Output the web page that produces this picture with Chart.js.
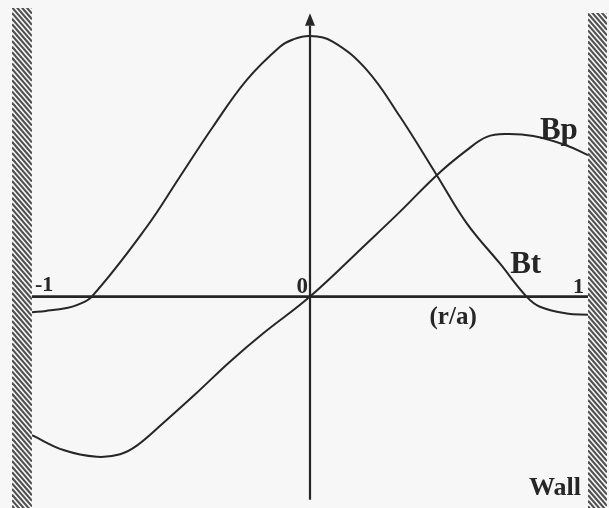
<!DOCTYPE html>
<html>
<head>
<meta charset="utf-8">
<title>Bt / Bp radial profiles</title>
<script src="https://cdn.jsdelivr.net/npm/chart.js@4/dist/chart.umd.min.js"></script>
<style>
  html, body { margin: 0; padding: 0; background: #f7f7f7; }
  canvas { display: block; }
</style>
</head>
<body>
<canvas id="c" width="609" height="508"></canvas>
<script>
// Radial positions (r/a) and field values for the toroidal field Bt
const btR = [-1.0, -0.95, -0.875, -0.839, -0.785, -0.587, -0.468, -0.349, -0.228, -0.108, -0.061, 0.0,
             0.083, 0.204, 0.324, 0.456, 0.564, 0.683, 0.779, 0.827, 0.923, 1.0];
const btVal = [-0.06, -0.055, -0.044, -0.033, 0.0, 0.268, 0.46, 0.652, 0.831, 0.959, 0.987, 1.0,
               0.978, 0.87, 0.69, 0.466, 0.281, 0.127, 0.0, -0.039, -0.065, -0.07];

// Radial positions (r/a) and field values for the poloidal field Bp
const bpR = [-1.0, -0.887, -0.767, -0.683, -0.623, -0.528, -0.408, -0.288, -0.168, 0.0,
             0.204, 0.324, 0.456, 0.564, 0.636, 0.707, 0.803, 0.923, 1.0];
const bpVal = [-0.532, -0.589, -0.615, -0.605, -0.572, -0.485, -0.37, -0.25, -0.141, 0.0,
               0.204, 0.326, 0.466, 0.562, 0.613, 0.624, 0.616, 0.58, 0.543];

// Axis tick labels
const xTickLabels = [
  { value: -1, text: '-1' },
  { value: 0, text: '0' },
  { value: 1, text: '1' }
];

const toPoints = (xs, ys) => xs.map((x, i) => ({ x, y: ys[i] }));

const INK = '#262626';
const SERIF = '"Liberation Serif", "DejaVu Serif", serif';

// Hatched conducting walls at r/a = -1 and r/a = 1, plus the cross-shaped axes
const wallsAndAxes = {
  id: 'wallsAndAxes',
  beforeDatasetsDraw(chart) {
    const { ctx, scales: { x, y } } = chart;
    const xl = x.getPixelForValue(-1);
    const xr = x.getPixelForValue(1);
    const x0 = x.getPixelForValue(0);
    const y0 = y.getPixelForValue(0);
    const H = chart.height;

    const hatch = (left, top, w) => {
      ctx.save();
      ctx.beginPath();
      ctx.rect(left, top, w, H - top);
      ctx.clip();
      ctx.strokeStyle = '#505050';
      ctx.lineWidth = 2.1;
      for (let s = top - w * 1.15; s < H + 10; s += 5.6) {
        ctx.beginPath();
        ctx.moveTo(left, s);
        ctx.lineTo(left + w, s + w * 1.15);
        ctx.stroke();
      }
      ctx.restore();
    };
    hatch(xl - 20, 8, 20);
    hatch(xr, 13, 19);

    ctx.save();
    ctx.strokeStyle = INK;
    ctx.fillStyle = INK;
    // horizontal axis
    ctx.lineWidth = 2.6;
    ctx.beginPath();
    ctx.moveTo(xl, y0);
    ctx.lineTo(xr, y0);
    ctx.stroke();
    // vertical axis with arrow
    const yTop = y.getPixelForValue(1.04);
    const yBot = y.getPixelForValue(-0.78);
    ctx.lineWidth = 2.2;
    ctx.beginPath();
    ctx.moveTo(x0, yTop);
    ctx.lineTo(x0, yBot);
    ctx.stroke();
    const tip = y.getPixelForValue(1.088);
    ctx.beginPath();
    ctx.moveTo(x0, tip);
    ctx.lineTo(x0 - 5, yTop);
    ctx.lineTo(x0 + 5, yTop);
    ctx.closePath();
    ctx.fill();
    ctx.restore();
  },
  afterDatasetsDraw(chart) {
    const { ctx, scales: { x, y } } = chart;
    const y0 = y.getPixelForValue(0);
    ctx.save();
    ctx.fillStyle = INK;
    ctx.textBaseline = 'alphabetic';

    // tick labels just above the horizontal axis
    xTickLabels.forEach(t => {
      const px = x.getPixelForValue(t.value);
      if (t.value < 0) {
        ctx.font = 'bold 22px ' + SERIF;
        ctx.textAlign = 'left';
        ctx.fillText(t.text, px + 3, y0 - 6);
      } else if (t.value === 0) {
        ctx.font = 'bold 23px ' + SERIF;
        ctx.textAlign = 'right';
        ctx.fillText(t.text, px - 2, y0 - 4);
      } else {
        ctx.font = 'bold 22px ' + SERIF;
        ctx.textAlign = 'right';
        ctx.fillText(t.text, px - 4, y0 - 4);
      }
    });

    ctx.textAlign = 'left';
    ctx.font = 'bold 25px ' + SERIF;
    ctx.fillText('(r/a)', x.getPixelForValue(0.43), y0 + 27);

    ctx.font = 'bold 31px ' + SERIF;
    ctx.fillText('Bt', x.getPixelForValue(0.72), y.getPixelForValue(0.09));
    ctx.fillText('Bp', x.getPixelForValue(0.827), y.getPixelForValue(0.605));

    ctx.font = 'bold 26px ' + SERIF;
    ctx.textAlign = 'right';
    ctx.fillText('Wall', x.getPixelForValue(1) - 7, chart.height - 13);
    ctx.restore();
  }
};

new Chart(document.getElementById('c'), {
  type: 'line',
  data: {
    datasets: [
      {
        label: 'Bt',
        data: toPoints(btR, btVal),
        borderColor: INK,
        borderWidth: 2,
        pointRadius: 0,
        tension: 0.4,
        fill: false
      },
      {
        label: 'Bp',
        data: toPoints(bpR, bpVal),
        borderColor: INK,
        borderWidth: 2,
        pointRadius: 0,
        tension: 0.4,
        fill: false
      }
    ]
  },
  options: {
    responsive: false,
    devicePixelRatio: 1,
    animation: false,
    layout: { padding: { left: 32, right: 21, top: 10, bottom: 3 } },
    plugins: { legend: { display: false }, tooltip: { enabled: false } },
    scales: {
      x: { type: 'linear', min: -1, max: 1, display: false },
      y: { type: 'linear', min: -0.8, max: 1.1, display: false }
    }
  },
  plugins: [wallsAndAxes]
});
</script>
</body>
</html>
